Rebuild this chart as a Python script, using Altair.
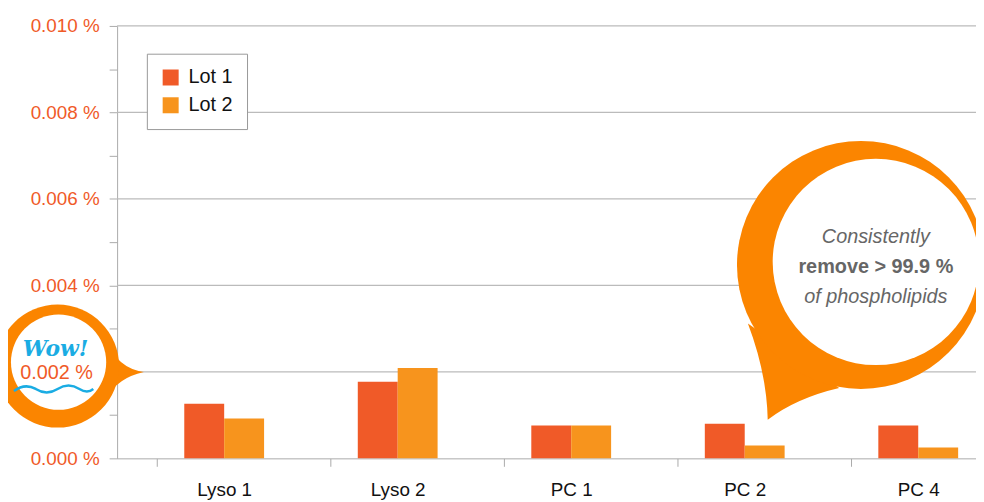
import altair as alt
import pandas as pd

categories = ["Lyso 1", "Lyso 2", "PC 1", "PC 2", "PC 4"]
lot1 = [0.00126, 0.00177, 0.00076, 0.00080, 0.00076]
lot2 = [0.00092, 0.00209, 0.00076, 0.00030, 0.00025]

rows = []
for c, a, b in zip(categories, lot1, lot2):
    rows.append({"cat": c, "lot": "Lot 1", "v": a})
    rows.append({"cat": c, "lot": "Lot 2", "v": b})
df = pd.DataFrame(rows)

W, H = 866, 436
ORANGE = "#FB8500"
RED = "#F05A28"
one = pd.DataFrame({"a": [0]})

bars = alt.Chart(df).mark_bar().encode(
    x=alt.X("cat:N", sort=categories, title=None,
            scale=alt.Scale(paddingInner=0.54, paddingOuter=0.245, align=0.79),
            axis=alt.Axis(labelFontSize=19, labelColor="#111", labelPadding=14, labelAngle=0,
                          domainColor="#aaa", tickColor="#aaa", tickOffset=-68, labelOffset=68,
                          tickSize=8, labelFont="Liberation Sans")),
    xOffset=alt.XOffset("lot:N"),
    y=alt.Y("v:Q", title=None, scale=alt.Scale(domain=[0, 0.01]),
            axis=alt.Axis(values=[0, 0.001, 0.002, 0.003, 0.004, 0.005, 0.006, 0.007, 0.008, 0.009, 0.01],
                          labelExpr="(round(datum.value*1000) % 2 == 0 && round(datum.value*1000) != 2) ? format(datum.value, '.3f') + ' %' : ''",
                          labelFontSize=19, labelColor=RED, labelFont="Liberation Sans",
                          labelPadding=10, domainColor="#aaa", tickColor="#aaa", tickSize=8,
                          grid=False)),
    color=alt.Color("lot:N", scale=alt.Scale(range=[RED, "#F7941D"]),
                    legend=alt.Legend(title=None, orient="none", legendX=30, legendY=28,
                                      labelFontSize=20, labelFont="Liberation Sans",
                                      symbolType="square", symbolSize=260, padding=14,
                                      strokeColor="#999", fillColor="white", rowPadding=8,
                                      labelColor="#111", labelOffset=8)),
)

grid = alt.Chart(pd.DataFrame({"g": [0.002, 0.004, 0.006, 0.008, 0.01]})).mark_rule(
    color="#bbb", strokeWidth=1.2).encode(y="g:Q")


def dot(x, y, r, fill):
    return alt.Chart(one).mark_point(
        shape="circle", size=(2 * r) ** 2, filled=True, fill=fill, opacity=1, strokeWidth=0
    ).encode(x=alt.value(x), y=alt.value(y))


def path(p, **kw):
    return alt.Chart(one).mark_point(shape=p, size=4e6, opacity=1, **kw).encode(
        x=alt.value(0), y=alt.value(0))


def txt(t, x, y, **kw):
    return alt.Chart(one).mark_text(text=t, font="Liberation Sans", **kw).encode(
        x=alt.value(x), y=alt.value(y))


# right speech bubble
tail_r = path("M0.636,0.300 Q0.655,0.350 0.656,0.397 Q0.685,0.375 0.728,0.365 Z",
              filled=True, fill=ORANGE, strokeWidth=0)
outer_r = dot(750, 241, 125, ORANGE)
inner_r = dot(765, 238, 104, "white")
t1 = txt("Consistently", 765, 213, fontSize=20, color="#666", fontStyle="italic")
t2 = txt("remove > 99.9 %", 765, 243, fontSize=20, color="#666", fontWeight="bold")
t3 = txt("of phospholipids", 765, 273, fontSize=20, color="#666", fontStyle="italic")

# left "Wow" bubble
tail_l = path("M-0.010,0.318 Q0.000,0.345 0.027,0.349 Q0.000,0.355 -0.010,0.375 Z",
              filled=True, fill=ORANGE, strokeWidth=0)
outer_l = dot(-60, 343, 62, ORANGE)
inner_l = dot(-59, 339, 48, "white")
wow = alt.Chart(one).mark_text(
    text="Wow!", fontSize=22, fontStyle="italic", fontWeight="bold", color="#1AACE3",
    font="DejaVu Serif").encode(x=alt.value(-62), y=alt.value(326))
lbl = txt("0.002 %", -61, 350, fontSize=20, color=RED)
wave = path("M-0.104,0.368 Q-0.093,0.360 -0.082,0.366 Q-0.071,0.373 -0.060,0.366 "
            "Q-0.049,0.359 -0.038,0.366 Q-0.030,0.371 -0.024,0.366",
            filled=False, stroke="#1AACE3", strokeWidth=2.5)

chart = alt.layer(grid, bars, tail_r, outer_r, inner_r, t1, t2, t3,
                  tail_l, outer_l, inner_l, wow, lbl, wave).properties(
    width=W, height=H, autosize=alt.AutoSizeParams(type="none"),
    padding={"left": 110, "top": 16, "right": 0, "bottom": 50},
).configure_view(strokeWidth=0)

chart.save("out.html", embed_options={"renderer": "svg", "actions": False})
